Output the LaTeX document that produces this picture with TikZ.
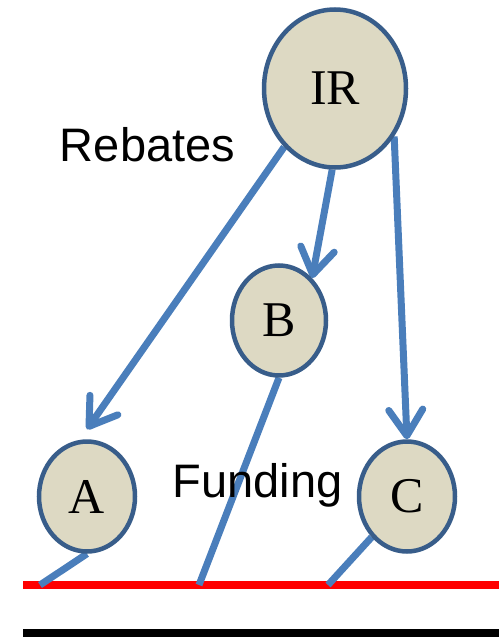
\documentclass[tikz,border=0pt]{standalone}
\usepackage{fontspec}
\newfontfamily\arialfont{Liberation Sans}
\newfontfamily\seriffont{Liberation Serif}
\usetikzlibrary{arrows.meta,shapes.geometric}
\pgfdeclarelayer{background}
\pgfsetlayers{background,main}
\definecolor{lineblue}{HTML}{4A7EBB}
\definecolor{edgeblue}{HTML}{385D8A}
\definecolor{bubblefill}{HTML}{DDD9C3}
\definecolor{groundred}{HTML}{FF0000}
\begin{document}
\begin{tikzpicture}[x=1pt,y=-1pt,
  bubble/.style={ellipse, draw=edgeblue, fill=bubblefill, line width=4.5pt, inner sep=0pt,
    font=\seriffont\fontsize{50}{50}\selectfont},
  flow/.style={draw=lineblue, line width=7pt},
  flowarrow/.style={flow, -{Straight Barb[length=26pt,width=34pt,round]}},
  lbl/.style={font=\arialfont\fontsize{47}{47}\selectfont, inner sep=0pt, anchor=base}]
\useasboundingbox (0,0) rectangle (499,637);

% nodes
\node[bubble, minimum width=142pt, minimum height=158pt] (IR) at (335,88.5) {IR};
\node[bubble, minimum width=94pt, minimum height=110pt] (B) at (279,320.5) {B};
\node[bubble, minimum width=96pt, minimum height=110pt] (A) at (87,496.5) {A};
\node[bubble, minimum width=96pt, minimum height=110pt] (C) at (407,496.5) {C};

\node[lbl] (rebates) at (147.5,161) {Rebates};
\node[lbl] (funding) at (257.5,497) {Funding};

% ground line points
\coordinate (gA) at (40,585);
\coordinate (gB) at (199,585);
\coordinate (gC) at (328,585);
\coordinate (redL) at (23,585);
\coordinate (redR) at (499,585);
\coordinate (blkL) at (23,633);
\coordinate (blkR) at (499,633);

\begin{pgfonlayer}{background}
  \draw[groundred, line width=8pt] (redL) -- (redR);
  \draw[black, line width=8pt] (blkL) -- (blkR);
  \draw[flow] (A.south) -- (gA);
  \draw[flow] (B.south) -- (gB);
  \draw[flow] (C.229) -- (gC);
  \draw[flowarrow] (IR.229) -- ([yshift=10pt]A.north);
  \draw[flowarrow] (IR.268) -- (B.52);
  \draw[flowarrow] (IR.-39) -- (C.north);
\end{pgfonlayer}
\end{tikzpicture}
\end{document}
